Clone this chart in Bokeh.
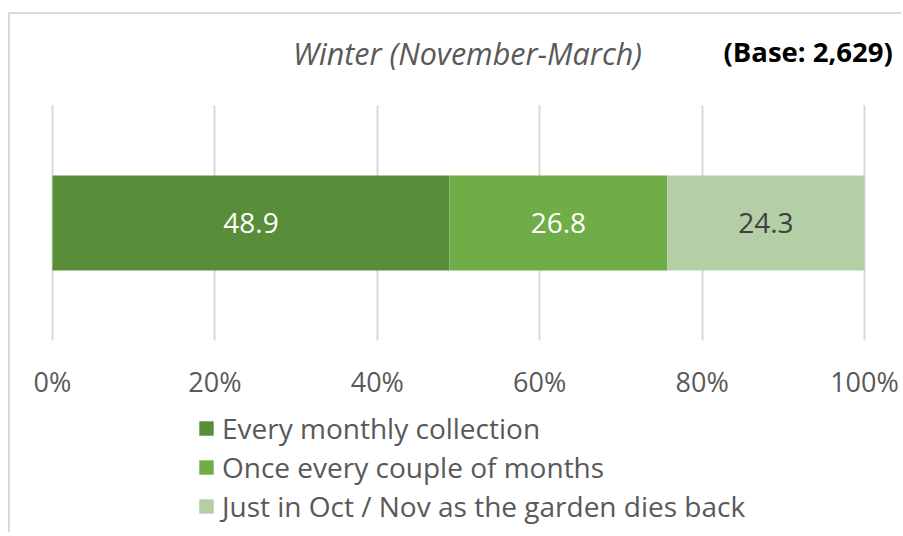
from bokeh.plotting import figure
from bokeh.models import Range1d, FixedTicker, Legend, LegendItem, Label, ColumnDataSource
from bokeh.core.properties import value
from bokeh.embed import file_html
from bokeh.resources import INLINE

category = ["Winter"]
series_names = ["Every monthly collection", "Once every couple of months",
                "Just in Oct / Nov as the garden dies back"]
series_values = [48.9, 26.8, 24.3]
series_colors = ["#5A8D3A", "#70AD47", "#B4CFA6"]
label_colors = ["#FFFFFF", "#FFFFFF", "#404040"]
tick_values = [0, 20, 40, 60, 80, 100]
tick_labels = ["0%", "20%", "40%", "60%", "80%", "100%"]
title_text = "Winter (November-March)"
base_text = "(Base: 2,629)"

FONT = "Open Sans"

p = figure(width=893, height=520, output_backend="svg", toolbar_location=None,
           x_range=Range1d(-5.1724, 104.803), y_range=Range1d(-1.3255, 0.8872),
           min_border_left=0, min_border_right=0, min_border_top=0, min_border_bottom=0)
p.styles = {"border-left": "2px solid #d9d9d9", "border-top": "2px solid #d9d9d9",
            "margin-top": "12px", "margin-left": "8px"}
p.outline_line_color = None
p.background_fill_color = "white"
p.border_fill_color = "white"

# stacked bar
ypos = list(range(len(category)))
lefts = []
acc = 0.0
for v in series_values:
    lefts.append(acc)
    acc += v
rights = [l + v for l, v in zip(lefts, series_values)]
mids = [(l + r) / 2 for l, r in zip(lefts, rights)]

renderers = []
for i, name in enumerate(series_names):
    src = ColumnDataSource(dict(y=ypos, left=[lefts[i]], right=[rights[i]]))
    r = p.hbar(y="y", left="left", right="right", height=0.404, source=src,
               fill_color=series_colors[i], line_color=None)
    renderers.append(r)

lab_src = ColumnDataSource(dict(x=mids, y=ypos * len(mids),
                                t=[f"{v:.1f}" for v in series_values], c=label_colors))
p.text(x="x", y="y", text="t", source=lab_src, text_color="c",
       text_align="center", text_baseline="middle",
       text_font=value(FONT), text_font_size="28px")

# axes / grid
p.yaxis.visible = False
p.ygrid.grid_line_color = None
p.xgrid.grid_line_color = "#d9d9d9"
p.xgrid.grid_line_width = 2
p.xgrid.ticker = FixedTicker(ticks=tick_values)
p.xgrid.cross_bounds = (-0.5, 0.5)
p.xaxis.ticker = FixedTicker(ticks=tick_values)
p.xaxis.fixed_location = -0.5
p.xaxis.major_label_overrides = {t: s for t, s in zip(tick_values, tick_labels)}
p.xaxis.axis_line_color = None
p.xaxis.major_tick_line_color = None
p.xaxis.minor_tick_line_color = None
p.xaxis.major_label_standoff = 16
p.xaxis.major_label_text_font = FONT
p.xaxis.major_label_text_font_size = "27px"
p.xaxis.major_label_text_color = "#595959"

# titles (screen units relative to the frame, y from the bottom)
p.add_layout(Label(x=457, y=482, x_units="screen", y_units="screen", text=title_text,
                   text_align="center", text_baseline="middle", text_font=FONT,
                   text_font_style="italic", text_font_size="30.5px", text_color="#595959"))
p.add_layout(Label(x=713, y=483, x_units="screen", y_units="screen", text=base_text,
                   text_align="left", text_baseline="middle", text_font=FONT,
                   text_font_style="bold", text_font_size="27.5px", text_color="#000000"))

legend = Legend(items=[LegendItem(label=n, renderers=[r]) for n, r in zip(series_names, renderers)],
                location=(187, 9), orientation="vertical", padding=0, margin=0,
                glyph_width=18, glyph_height=18, label_standoff=7, spacing=1,
                label_text_font=FONT, label_text_font_size="28px",
                label_text_color="#595959", border_line_color=None,
                background_fill_alpha=0)
p.add_layout(legend, "center")

open("out.html", "w").write(file_html(p, INLINE))
